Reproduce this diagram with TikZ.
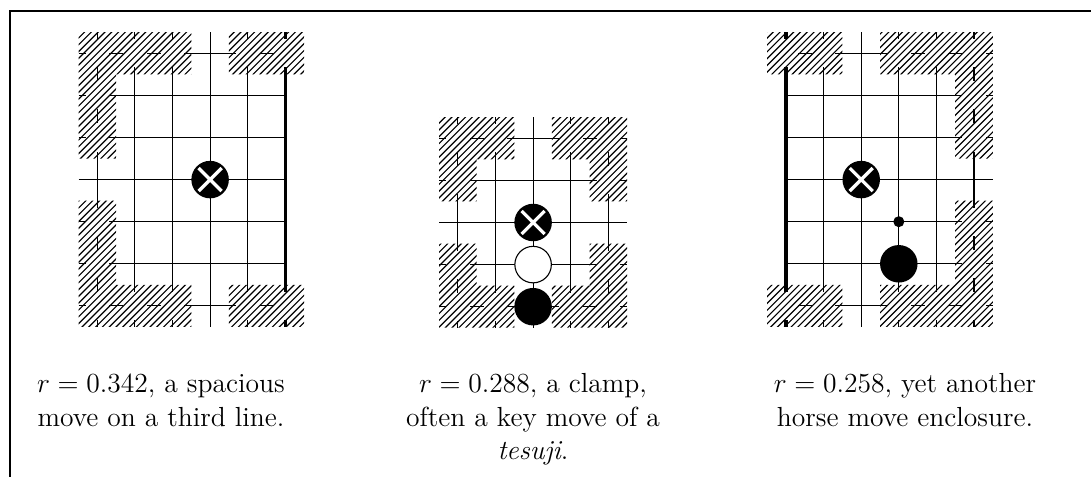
\documentclass[tikz,border=0pt]{standalone}
\def\u{0.4348pt}
\tikzset{
  gridline/.style={line width={1.1*\u},black},
  edgeline/.style={line width={3.1*\u},black},
  hatchline/.style={line width={1.15*\u},black},
  inset/.style={fill=white},
  xstone/.style={circle,fill=black,inner sep=0pt,minimum size={37.5*\u},
    path picture={\draw[white,line width={3.3*\u}]
      ([shift={(-11.5,-11.5)}]path picture bounding box.center) -- ([shift={(11.5,11.5)}]path picture bounding box.center)
      ([shift={(-11.5,11.5)}]path picture bounding box.center) -- ([shift={(11.5,-11.5)}]path picture bounding box.center);}},
  wstone/.style={circle,draw=black,line width={1.1*\u},fill=white,inner sep=0pt,minimum size={36.5*\u}},
  bstone/.style={circle,fill=black,inner sep=0pt,minimum size={37.5*\u}},
  dotstone/.style={circle,fill=black,inner sep=0pt,minimum size={11*\u}},
  caption/.style={anchor=base,inner sep=0pt,font=\fontsize{12}{14.5}\selectfont},
}
\def\dx{37.6}
\def\dy{42.1}
\def\hx{18.8}
\def\hy{21.05}
\def\ins{7}
\newcommand{\hatchcells}[1]{%
  \foreach \i/\j in {#1}{\fill[inset] (\i*\dx-\hx+\ins,\j*\dy-\hy+\ins) rectangle (\i*\dx+\hx-\ins,\j*\dy+\hy-\ins);}
  \begin{scope}
    \clip \foreach \i/\j in {#1}{(\i*\dx-\hx,\j*\dy-\hy) rectangle (\i*\dx+\hx,\j*\dy+\hy)};
    \foreach \k in {-10,...,80} \draw[hatchline] (\k*6.8-300,300) -- ++(600,-600);
  \end{scope}
}
\begin{document}
\begin{tikzpicture}[x=0.4348pt,y=-0.4348pt]
\useasboundingbox (0,0) rectangle (1091,477);
\draw[line width={2*\u}] (10,480) -- (10,11) -- (1095,11);
% diagram 1
\begin{scope}[shift={(97.3,53.3)}]
  \foreach \i in {0,...,4} \draw[gridline] (\i*\dx,-\hy) -- (\i*\dx,6*\dy+\hy);
  \draw[edgeline] (5*\dx,-\hy) -- (5*\dx,6*\dy+\hy);
  \foreach \j in {0,...,6} \draw[gridline] (-\hx,\j*\dy) -- (5*\dx,\j*\dy);
  \hatchcells{0/0,1/0,2/0,0/1,0/2,4/0,5/0,0/4,0/5,0/6,1/6,2/6,4/6,5/6}
  \node[xstone] (a1) at (3*\dx,3*\dy) {};
\end{scope}
% diagram 2
\begin{scope}[shift={(457.9,138.3)}]
  \foreach \i in {0,...,4} \draw[gridline] (\i*\dx,-\hy) -- (\i*\dx,4*\dy+\hy);
  \foreach \j in {0,...,4} \draw[gridline] (-\hx,\j*\dy) -- (4*\dx+\hx,\j*\dy);
  \hatchcells{0/0,1/0,0/1,3/0,4/0,4/1,0/3,0/4,1/4,4/3,3/4,4/4}
  \node[xstone] (b1) at (2*\dx,2*\dy) {};
  \node[wstone] (b2) at (2*\dx,3*\dy) {};
  \node[bstone] (b3) at (2*\dx,4*\dy) {};
\end{scope}
% diagram 3
\begin{scope}[shift={(786,53.3)}]
  \draw[edgeline] (0,-\hy) -- (0,6*\dy+\hy);
  \foreach \i in {1,...,5} \draw[gridline] (\i*\dx,-\hy) -- (\i*\dx,6*\dy+\hy);
  \foreach \j in {0,...,6} \draw[gridline] (0,\j*\dy) -- (5*\dx+\hx,\j*\dy);
  \hatchcells{0/0,1/0,3/0,4/0,5/0,5/1,5/2,5/4,5/5,0/6,1/6,3/6,4/6,5/6}
  \node[xstone] (c1) at (2*\dx,3*\dy) {};
  \node[dotstone] (c2) at (3*\dx,4*\dy) {};
  \node[bstone] (c3) at (3*\dx,5*\dy) {};
\end{scope}
% captions
\node[caption] (t1a) at (161,392.7) {$r=0.342$, a spacious};
\node[caption] (t1b) at (161,426.7) {move on a third line.};
\node[caption] (t2a) at (533,392.7) {$r=0.288$, a clamp,};
\node[caption] (t2b) at (533,426.7) {often a key move of a};
\node[caption] (t2c) at (533,459.3) {\textit{tesuji}.};
\node[caption] (t3a) at (905,392.7) {$r=0.258$, yet another};
\node[caption] (t3b) at (905,426.7) {horse move enclosure.};
\end{tikzpicture}
\end{document}
